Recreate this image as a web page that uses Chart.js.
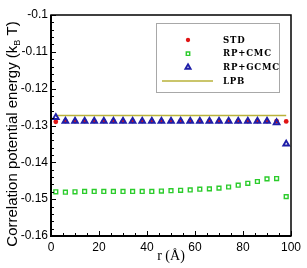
<!DOCTYPE html>
<html><head><meta charset="utf-8">
<script src="https://cdn.jsdelivr.net/npm/chart.js@4/dist/chart.umd.min.js"></script>
<style>html,body{margin:0;padding:0;background:#fff}canvas{display:block}</style>
</head><body>
<canvas id="c" width="307" height="268" style="width:307px;height:268px"></canvas>
<script>
// ---- data ----
const rValues = [2,6,10,14,18,22,26,30,34,38,42,46,50,54,58,62,66,70,74,78,82,86,90,94,98];
const stdE  = [-0.1290,-0.1288,-0.1288,-0.1288,-0.1288,-0.1288,-0.1288,-0.1288,-0.1288,-0.1288,-0.1288,-0.1288,-0.1288,-0.1288,-0.1288,-0.1288,-0.1288,-0.1288,-0.1288,-0.1288,-0.1288,-0.1288,-0.1288,-0.1288,-0.1289];
const cmcE  = [-0.1480,-0.1481,-0.1480,-0.1479,-0.1479,-0.1479,-0.1479,-0.1479,-0.1479,-0.1479,-0.1479,-0.1478,-0.1477,-0.1476,-0.1475,-0.1473,-0.1472,-0.1470,-0.1467,-0.1462,-0.1457,-0.1452,-0.1445,-0.1444,-0.1493];
const gcmcE = [-0.1278,-0.1288,-0.1288,-0.1288,-0.1288,-0.1288,-0.1288,-0.1288,-0.1288,-0.1288,-0.1288,-0.1288,-0.1288,-0.1288,-0.1288,-0.1288,-0.1288,-0.1288,-0.1288,-0.1288,-0.1288,-0.1288,-0.1288,-0.1292,-0.1350];
const lpbR  = [2,98];
const lpbE  = [-0.1273,-0.1273];
const seriesLabels = ['STD','RP+CMC','RP+GCMC','LPB'];
const xTicks = [0,20,40,60,80,100];
const xTickLabels = ['0','20','40','60','80','100'];
const yTicks = [-0.16,-0.15,-0.14,-0.13,-0.12,-0.11,-0.1];
const yTickLabels = ['-0.16','-0.15','-0.14','-0.13','-0.12','-0.11','-0.1'];
const xTitle = 'r (Å)';
const yTitleParts = ['Correlation potential energy (k','B',' T)'];

const RED='#e01414', GREEN='#2ccc2c', BLUE='#1e1ea8', OLIVE='#b9b23a';

const pts = (xs, ys) => xs.map((x,i)=>({x:x, y:ys[i]}));

const decor = {
  id:'decor',
  afterDatasetsDraw(chart){
    const {ctx, chartArea:a, scales:{x,y}} = chart;
    ctx.save();
    ctx.strokeStyle='#000';
    ctx.lineWidth=1;
    for(let k=0;k<=20;k++){
      const v=k*5, px=Math.round(x.getPixelForValue(v))+0.5, major=(k%4===0);
      ctx.beginPath(); ctx.moveTo(px,a.bottom); ctx.lineTo(px,a.bottom-(major?5:3)); ctx.stroke();
    }
    for(let k=0;k<=30;k++){
      const v=-0.16+k*0.002, py=Math.round(y.getPixelForValue(v))+0.5, major=(k%5===0);
      ctx.beginPath(); ctx.moveTo(a.left,py); ctx.lineTo(a.left+(major?5:3),py); ctx.stroke();
    }
    ctx.lineWidth=1.5;
    ctx.strokeRect(a.left, a.top, a.right-a.left, a.bottom-a.top);
    ctx.lineWidth=2;
    ctx.beginPath(); ctx.moveTo(a.left,a.top); ctx.lineTo(a.left,a.bottom); ctx.lineTo(a.right,a.bottom); ctx.stroke();
    ctx.restore();
  },
  afterDraw(chart){
    const {ctx, chartArea:a} = chart;
    ctx.save();
    ctx.fillStyle='#000';
    ctx.font="14px 'Liberation Serif'";
    ctx.textAlign='center'; ctx.textBaseline='alphabetic';
    ctx.fillText(xTitle,(a.left+a.right)/2,260);
    ctx.translate(17,134);
    ctx.rotate(-Math.PI/2);
    ctx.textAlign='left';
    const mainF="15px 'Liberation Sans'", subF="9px 'Liberation Sans'";
    ctx.font=mainF; const w0=ctx.measureText(yTitleParts[0]).width, w2=ctx.measureText(yTitleParts[2]).width;
    ctx.font=subF; const w1=ctx.measureText(yTitleParts[1]).width;
    let sx=-(w0+w1+w2)/2;
    ctx.font=mainF; ctx.fillText(yTitleParts[0],sx,0); sx+=w0;
    ctx.font=subF; ctx.fillText(yTitleParts[1],sx,3); sx+=w1;
    ctx.font=mainF; ctx.fillText(yTitleParts[2],sx,0);
    ctx.restore();

    ctx.save();
    const bx=156.5, by=23.5, bw=123, bh=69;
    ctx.fillStyle='#fff'; ctx.fillRect(bx,by,bw,bh);
    ctx.strokeStyle='#a8a8a8'; ctx.lineWidth=1; ctx.strokeRect(bx,by,bw,bh);
    const rows=[40,53.7,67.3,81];
    const mx=188, tx=223;
    chart.data.datasets.forEach((ds,i)=>{
      const ry=rows[i];
      if(ds.showLine){
        ctx.strokeStyle=ds.borderColor; ctx.lineWidth=ds.borderWidth;
        ctx.beginPath(); ctx.moveTo(162,ry); ctx.lineTo(213,ry); ctx.stroke();
      } else {
        ctx.fillStyle=ds.backgroundColor; ctx.strokeStyle=ds.borderColor;
        ctx.lineWidth=ds.borderWidth;
        Chart.helpers.drawPoint(ctx,{pointStyle:ds.pointStyle,radius:ds.pointRadius*0.9,borderWidth:ds.borderWidth,rotation:0},mx,ry);
      }
      ctx.fillStyle='#000';
      ctx.font="bold 8.6px 'DejaVu Serif'";
      ctx.letterSpacing='0.8px';
      ctx.textAlign='left'; ctx.textBaseline='middle';
      ctx.fillText(ds.label,tx,ry+0.5);
    });
    ctx.restore();
  }
};

new Chart(document.getElementById('c').getContext('2d'),{
  type:'scatter',
  data:{datasets:[
    {label:seriesLabels[0], data:pts(rValues,stdE), pointStyle:'circle', pointRadius:2.4, backgroundColor:RED, borderColor:RED, borderWidth:0, order:3},
    {label:seriesLabels[1], data:pts(rValues,cmcE), pointStyle:'rect', pointRadius:2.7, backgroundColor:'rgba(0,0,0,0)', borderColor:GREEN, borderWidth:1.4, order:2},
    {label:seriesLabels[2], data:pts(rValues,gcmcE), pointStyle:'triangle', pointRadius:3.3, backgroundColor:'rgba(0,0,0,0)', borderColor:BLUE, borderWidth:1.9, order:1},
    {label:seriesLabels[3], data:pts(lpbR,lpbE), showLine:true, pointRadius:0, borderColor:OLIVE, borderWidth:1.5, order:4}
  ]},
  options:{
    responsive:false, animation:false, devicePixelRatio:1,
    layout:{padding:{left:0,right:16,top:15,bottom:0}},
    plugins:{legend:{display:false}, tooltip:{enabled:false}},
    scales:{
      x:{type:'linear', min:0, max:100,
        afterBuildTicks(s){ s.ticks = xTicks.map(v=>({value:v})); },
        afterFit(s){ s.height=32; },
        grid:{display:false, drawTicks:false}, border:{display:false},
        ticks:{padding:4, color:'#000', maxRotation:0, autoSkip:false, font:{family:'Liberation Sans', size:12},
          callback:(v,i)=>xTickLabels[i]}
      },
      y:{type:'linear', min:-0.16, max:-0.1,
        afterBuildTicks(s){ s.ticks = yTicks.map(v=>({value:v})); },
        afterFit(s){ s.width=51; },
        grid:{display:false, drawTicks:false}, border:{display:false},
        ticks:{padding:3, color:'#000', autoSkip:false, font:{family:'Liberation Sans', size:12},
          callback:(v,i)=>yTickLabels[i]}
      }
    }
  },
  plugins:[decor]
});
</script>
</body></html>
